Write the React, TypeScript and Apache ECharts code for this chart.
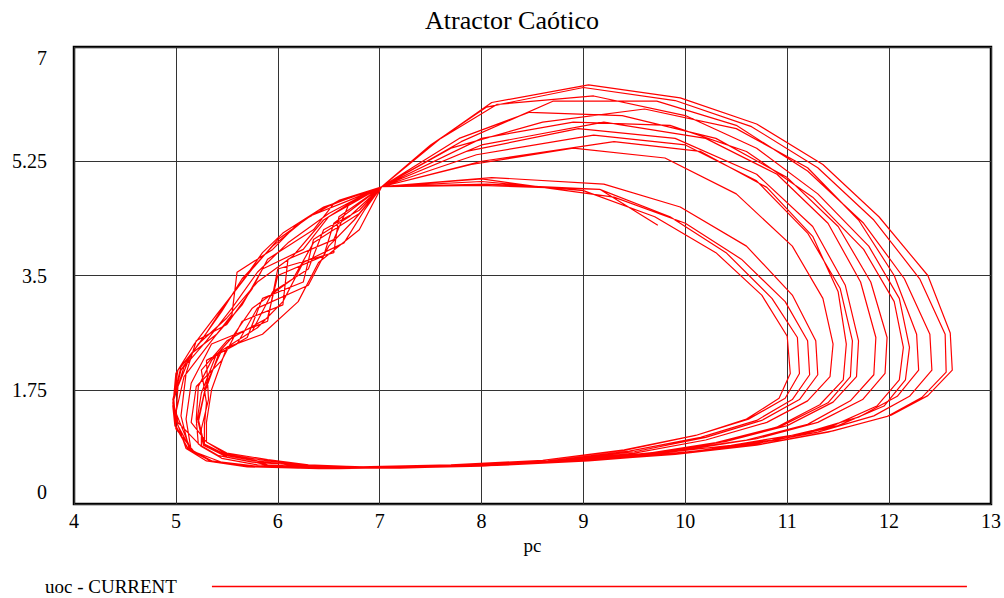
import React, { useEffect, useRef } from "react";
import * as echarts from "echarts";

// x-axis (pc) and y-axis (uoc) ticks
const xTicks = [4, 5, 6, 7, 8, 9, 10, 11, 12, 13];
const yTicks = [0, 1.75, 3.5, 5.25, 7];
const titleText = "Atractor Caótico";
const xName = "pc";
const seriesName = "uoc - CURRENT";

// trajectory: [pc, uoc]
const cycle1: [number, number][] = [[5.2,1.2],[5.25,1.7],[5.4,2.3],[5.75,2.65],[5.95,3.25],[6.3,3.6],[6.45,4.2],[6.8,4.5],[7.02,4.86],[7.9,5.2],[8.9,5.45],[9.8,5.3],[10.5,4.75],[11.05,3.95],[11.35,3.15],[11.45,2.45],[11.42,1.95],[11.2,1.58],[10.8,1.25],[10.2,0.98],[9.5,0.78],[8.7,0.65],[7.8,0.58],[6.9,0.55],[6.1,0.57],[5.8,0.6],[5.45,0.7],[5.25,0.88]];
const cycle2: [number, number][] = [[5.02,1.25],[4.97,1.6],[5.05,2.1],[5.25,2.5],[5.5,3.1],[5.75,3.6],[6.0,4.05],[6.4,4.5],[6.75,4.72],[7.02,4.86],[7.6,5.6],[8.15,6.12],[9.1,6.25],[10.0,5.95],[10.7,5.45],[11.3,4.75],[11.8,3.95],[12.1,3.15],[12.2,2.4],[12.16,1.9],[11.95,1.5],[11.5,1.2],[10.9,0.98],[10.1,0.8],[9.3,0.7],[8.4,0.62],[7.5,0.57],[6.6,0.54],[5.7,0.57],[5.35,0.65],[5.15,0.82]];
const cycle3: [number, number][] = [[5.1,1.3],[5.15,1.85],[5.35,2.45],[5.9,2.8],[6.0,3.6],[6.55,3.85],[6.6,4.4],[7.02,4.86],[8.0,4.94],[9.0,4.8],[9.7,4.4],[10.3,3.85],[10.75,3.2],[11.0,2.57],[11.03,2.0],[10.92,1.62],[10.6,1.3],[10.1,1.05],[9.4,0.82],[8.6,0.67],[7.7,0.6],[6.8,0.57],[6.3,0.6],[5.9,0.68],[5.5,0.78],[5.3,0.95]];
const cycle4: [number, number][] = [[5.3,1.25],[5.35,1.75],[5.5,2.4],[5.85,2.6],[6.2,3.1],[6.4,3.7],[6.8,4.2],[7.02,4.86],[8.0,5.5],[9.2,5.85],[10.2,5.6],[10.9,5.05],[11.4,4.3],[11.72,3.4],[11.87,2.55],[11.85,1.98],[11.62,1.58],[11.2,1.22],[10.6,0.98],[9.9,0.82],[9.1,0.7],[8.2,0.6],[7.3,0.56],[6.4,0.54],[5.7,0.57],[5.35,0.65],[5.15,0.82]];
const cycle5: [number, number][] = [[5.02,1.2],[4.97,1.55],[5.02,2.05],[5.2,2.4],[5.45,2.95],[5.65,3.45],[5.95,3.95],[6.3,4.4],[6.7,4.65],[7.02,4.86],[7.5,5.5],[8.05,6.08],[9.0,6.38],[9.9,6.18],[10.65,5.78],[11.3,5.15],[11.85,4.35],[12.3,3.45],[12.55,2.6],[12.56,2.02],[12.32,1.63],[11.98,1.34],[11.4,1.1],[10.7,0.9],[9.9,0.76],[9.0,0.66],[8.1,0.59],[7.2,0.55],[6.4,0.55],[5.8,0.6],[5.45,0.7],[5.25,0.88]];
const cycle6: [number, number][] = [[5.25,1.15],[5.32,1.6],[5.3,2.2],[5.6,2.45],[5.8,3.0],[6.3,3.35],[6.5,3.95],[6.75,4.35],[7.02,4.86],[8.1,5.0],[9.2,4.9],[9.95,4.55],[10.6,3.95],[11.05,3.2],[11.28,2.5],[11.3,1.98],[11.12,1.6],[10.75,1.28],[10.2,1.02],[9.5,0.8],[8.7,0.66],[7.8,0.59],[6.9,0.56],[6.1,0.58],[5.7,0.57],[5.35,0.65],[5.15,0.82]];
const cycle7: [number, number][] = [[5.0,1.4],[5.08,1.95],[5.3,2.4],[5.55,2.9],[5.6,3.55],[5.95,3.9],[6.2,4.3],[6.6,4.65],[7.02,4.86],[7.95,5.35],[9.1,5.65],[10.0,5.5],[10.7,4.95],[11.2,4.15],[11.52,3.3],[11.64,2.5],[11.62,1.95],[11.4,1.55],[10.95,1.2],[10.35,0.95],[9.6,0.77],[8.8,0.66],[7.9,0.58],[7.0,0.55],[6.3,0.58],[5.9,0.66],[5.5,0.76],[5.3,0.95]];
const cycle8: [number, number][] = [[5.15,1.25],[5.2,1.8],[5.45,2.2],[5.65,2.8],[6.05,3.05],[6.1,3.75],[6.55,4.05],[6.7,4.6],[7.02,4.86],[7.8,5.55],[8.7,6.17],[9.72,6.17],[10.5,5.8],[11.2,5.1],[11.75,4.3],[12.15,3.45],[12.4,2.6],[12.42,2.05],[12.2,1.65],[11.85,1.35],[11.3,1.1],[10.6,0.9],[9.8,0.76],[8.9,0.65],[8.0,0.58],[7.1,0.55],[6.3,0.55],[5.7,0.58],[5.35,0.66],[5.13,0.85]];
const cycle9: [number, number][] = [[5.05,1.35],[5.1,2.0],[5.2,2.5],[5.5,2.75],[5.75,3.3],[5.9,3.75],[6.35,4.2],[6.55,4.6],[7.02,4.86],[8.05,4.9],[9.16,4.82],[9.85,4.4],[10.4,3.85],[10.85,3.15],[11.1,2.55],[11.12,2.0],[10.98,1.62],[10.62,1.3],[10.1,1.05],[9.4,0.83],[8.6,0.67],[7.7,0.6],[6.8,0.57],[6.2,0.59],[5.85,0.64],[5.5,0.74],[5.28,0.9]];
const cycle10: [number, number][] = [[5.22,1.3],[5.3,1.85],[5.45,2.35],[5.8,2.7],[6.05,3.1],[6.25,3.7],[6.65,4.0],[6.85,4.5],[7.02,4.86],[7.78,5.6],[8.47,6.0],[9.38,5.95],[10.3,5.6],[11.0,5.0],[11.5,4.25],[11.82,3.4],[11.98,2.55],[11.96,2.0],[11.74,1.6],[11.3,1.25],[10.7,1.0],[10.0,0.83],[9.2,0.7],[8.3,0.61],[7.4,0.56],[6.5,0.54],[5.75,0.57],[5.38,0.64],[5.12,0.85]];
const cycle11: [number, number][] = [[4.99,1.2],[4.97,1.5],[5.0,2.0],[5.18,2.45],[5.4,2.9],[5.6,3.3],[5.85,3.85],[6.05,4.15],[6.45,4.55],[7.02,4.86],[8.0,5.25],[9.3,5.55],[10.15,5.4],[10.8,4.85],[11.25,4.1],[11.5,3.25],[11.58,2.45],[11.55,1.9],[11.32,1.52],[10.9,1.18],[10.3,0.94],[9.6,0.77],[8.8,0.66],[7.9,0.58],[7.0,0.56],[6.2,0.6],[5.75,0.64],[5.42,0.74],[5.22,0.92]];
const cycle12: [number, number][] = [[5.2,1.3],[5.22,1.8],[5.35,2.2],[5.55,2.55],[5.75,3.0],[6.15,3.45],[6.35,4.0],[6.8,4.45],[7.02,4.86],[7.7,5.45],[8.6,5.85],[9.6,6.05],[10.5,5.75],[11.2,5.15],[11.7,4.35],[12.05,3.5],[12.27,2.6],[12.29,2.05],[12.08,1.65],[11.7,1.33],[11.15,1.08],[10.45,0.9],[9.65,0.76],[8.8,0.65],[7.9,0.58],[7.0,0.55],[6.2,0.55],[5.65,0.58],[5.3,0.66],[5.1,0.85]];
const cycle13: [number, number][] = [[5.0,1.3],[5.02,1.8],[5.15,2.3],[5.4,2.6],[5.65,3.05],[5.85,3.6],[6.25,3.9],[6.5,4.4],[7.02,4.86],[8.0,4.98],[9.3,4.7],[10.0,4.3],[10.55,3.75],[10.98,3.1],[11.2,2.5],[11.22,1.98],[11.05,1.6],[10.7,1.28],[10.15,1.02],[9.45,0.81],[8.65,0.66],[7.75,0.59],[6.85,0.56],[6.15,0.59],[5.8,0.66],[5.48,0.76],[5.28,0.92]];
const cycle14: [number, number][] = [[5.28,1.2],[5.3,1.55],[5.25,2.05],[5.5,2.5],[5.9,2.85],[6.0,3.5],[6.45,3.8],[6.55,4.3],[7.02,4.86],[7.85,5.4],[8.95,5.75],[9.9,5.6],[10.7,5.05],[11.25,4.25],[11.57,3.35],[11.7,2.5],[11.68,1.95],[11.45,1.56],[11.0,1.2],[10.4,0.96],[9.7,0.78],[8.9,0.67],[8.0,0.58],[7.1,0.55],[6.3,0.55],[5.7,0.57],[5.35,0.65],[5.12,0.84]];
const cycle15: [number, number][] = [[5.0,1.2],[4.98,1.6],[5.08,2.1],[5.3,2.5],[5.55,3.0],[5.8,3.55],[6.1,4.0],[6.5,4.45],[6.8,4.7],[7.02,4.86],[7.55,5.55],[8.1,6.15],[9.05,6.42],[9.95,6.22],[10.7,5.82],[11.35,5.2],[11.9,4.4],[12.38,3.5],[12.6,2.62],[12.62,2.05],[12.38,1.66],[12.02,1.36],[11.45,1.12],[10.75,0.92],[9.95,0.77],[9.05,0.66],[8.15,0.59],[7.25,0.56],[6.4,0.55],[5.9,0.6],[5.5,0.72],[5.27,0.9]];
const cycle16: [number, number][] = [[5.22,1.25],[5.28,1.7],[5.42,2.3],[5.7,2.55],[5.85,3.15],[6.25,3.4],[6.35,4.05],[6.7,4.4],[7.02,4.86],[8.0,5.6],[8.9,5.85],[9.85,5.8],[10.6,5.4],[11.25,4.7],[11.75,3.9],[12.05,3.1],[12.14,2.4],[12.1,1.9],[11.88,1.5],[11.45,1.2],[10.85,0.98],[10.1,0.81],[9.3,0.7],[8.4,0.62],[7.5,0.57],[6.6,0.55],[5.85,0.57],[5.45,0.64],[5.18,0.8]];
const cycleEnd: [number, number][] = [[5.0,1.15],[4.97,1.55],[5.05,2.05],[5.22,2.45],[5.5,2.85],[5.8,3.4],[6.15,3.8],[6.45,4.35],[6.75,4.65],[7.02,4.86],[8.0,4.88],[9.16,4.82],[9.73,4.27]];

const cycles = [cycle1, cycle2, cycle3, cycle4, cycle5, cycle6, cycle7, cycle8, cycle9, cycle10, cycle11, cycle12, cycle13, cycle14, cycle15, cycle16, cycleEnd];

const FONT = "'Liberation Serif', 'Times New Roman', serif";

export default function App() {
  const ref = useRef<HTMLDivElement>(null);
  useEffect(() => {
    document.body.style.margin = "0";
    if (!ref.current) return;
    const chart = echarts.init(ref.current, null, { renderer: "svg" });
    const data: [number, number][] = [];
    cycles.forEach((c) => c.forEach((p) => data.push(p)));
    chart.setOption({
      animation: false,
      backgroundColor: "#ffffff",
      title: {
        text: titleText,
        left: 507,
        textAlign: "center",
        top: 2,
        textStyle: { fontFamily: FONT, fontSize: 26, fontWeight: "normal", color: "#000" },
      },
      grid: {
        left: 74,
        right: 12,
        top: 47,
        bottom: 94,
        show: true,
        borderColor: "#000",
        borderWidth: 2.5,
        backgroundColor: "transparent",
      },
      legend: {
        data: [seriesName],
        left: 40,
        top: 572,
        align: "right",
        icon: "rect",
        itemWidth: 755,
        itemHeight: 1.5,
        textStyle: { fontFamily: FONT, fontSize: 19, color: "#000", padding: [0, 30, 0, 0] },
      },
      xAxis: {
        type: "value",
        min: xTicks[0],
        max: xTicks[xTicks.length - 1],
        interval: 1,
        name: xName,
        nameLocation: "middle",
        nameGap: 30,
        nameTextStyle: { fontFamily: FONT, fontSize: 19, color: "#000" },
        axisLine: { show: false },
        axisTick: { show: false },
        axisLabel: { fontFamily: FONT, fontSize: 20, color: "#000", margin: 7 },
        splitLine: { show: true, lineStyle: { color: "#333", width: 1 } },
      },
      yAxis: {
        type: "value",
        min: yTicks[0],
        max: yTicks[yTicks.length - 1],
        interval: 1.75,
        axisLine: { show: false },
        axisTick: { show: false },
        axisLabel: {
          fontFamily: FONT,
          fontSize: 20,
          color: "#000",
          margin: 27,
          formatter: (v: number) => {
            if (v === yTicks[yTicks.length - 1]) return "{top|" + v + "}";
            if (v === yTicks[0]) return "{bot|" + v + "}";
            return String(v);
          },
          rich: {
            top: { fontFamily: FONT, fontSize: 20, color: "#000", padding: [22, 0, 0, 0] },
            bot: { fontFamily: FONT, fontSize: 20, color: "#000", padding: [0, 0, 24, 0] },
          },
        },
        splitLine: { show: true, lineStyle: { color: "#333", width: 1 } },
      },
      series: [
        {
          name: seriesName,
          type: "line",
          data,
          showSymbol: false,
          symbol: "none",
          smooth: false,
          lineStyle: { color: "#ff0000", width: 1.2 },
          itemStyle: { color: "#ff0000" },
        },
      ],
    });
    return () => chart.dispose();
  }, []);
  return <div ref={ref} style={{ width: 1004, height: 598 }} />;
}
